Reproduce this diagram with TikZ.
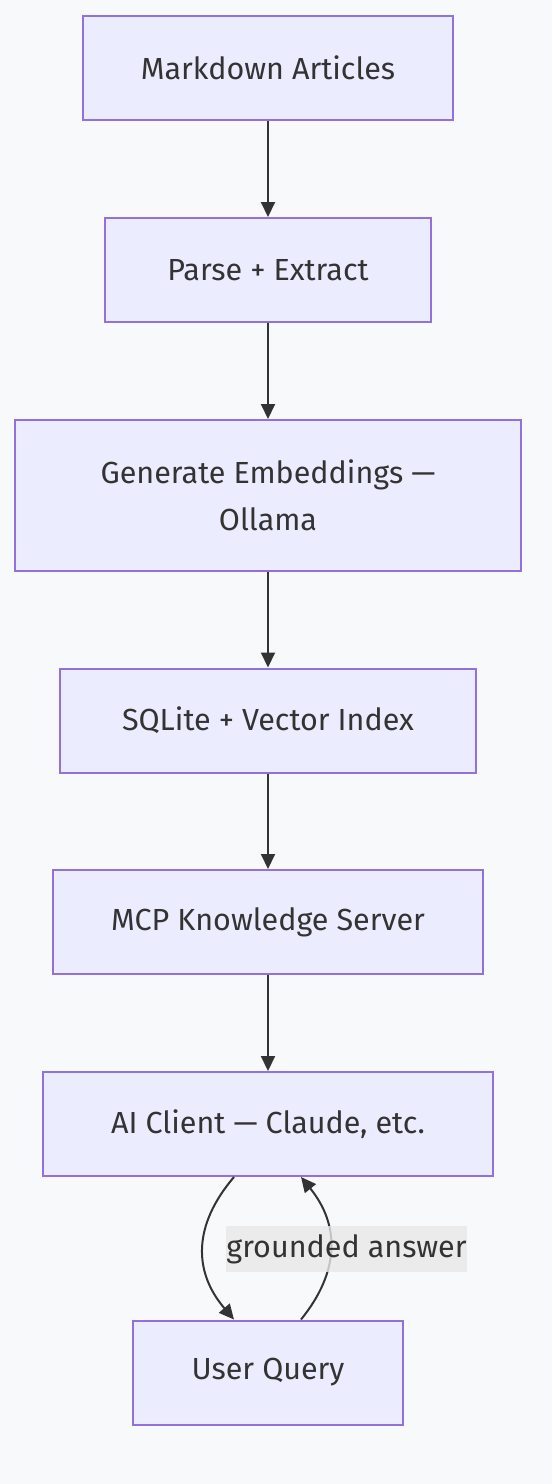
\documentclass[tikz,border=0pt]{standalone}
\usepackage{fontspec}
\setmainfont{Fira Sans}
\usetikzlibrary{arrows.meta,positioning}
\definecolor{nodefill}{HTML}{ECECFF}
\definecolor{nodeline}{HTML}{9370DB}
\definecolor{ink}{HTML}{333333}
\definecolor{canvas}{HTML}{F8F9FA}
\definecolor{labelbg}{HTML}{E8E8E8}
\tikzset{
  stage/.style     = {rectangle, draw=nodeline, fill=nodefill, line width=2pt,
                      align=center, text=ink, inner sep=0pt, minimum height=104pt,
                      font=\fontsize{30.5}{47}\selectfont},
  flow/.style      = {draw=ink, line width=2pt, -{Triangle[length=15pt,width=14pt]}},
  edgelabel/.style = {fill=labelbg, fill opacity=0.8, text opacity=1, text=ink,
                      inner sep=0pt, minimum width=237pt, minimum height=46pt,
                      font=\fontsize{30.5}{47}\selectfont}
}

\begin{document}
\begin{tikzpicture}[x=1pt,y=-1pt]

% canvas, fixes the margins
\fill[canvas] (0,0) rectangle (552,1484);
\useasboundingbox (0,0) rectangle (552,1484);

% the pipeline, top to bottom
\node[stage, minimum width=370pt] (md) at (268,68) {Markdown Articles};
\node[stage, minimum width=326pt] (parse) at (268,270) {Parse + Extract};
\node[stage, minimum width=506pt, minimum height=151pt] (embed) at (268,495.5) {Generate Embeddings —\\Ollama};
\node[stage, minimum width=416pt] (index) at (268,720.5) {SQLite + Vector Index};
\node[stage, minimum width=430pt] (mcp) at (268,922) {MCP Knowledge Server};
\node[stage, minimum width=450pt] (client) at (268,1124) {AI Client — Claude, etc.};
\node[stage, minimum width=270pt] (query) at (268,1372.5) {User Query};

% straight arrows between the stages
\foreach \from/\to in {md/parse, parse/embed, embed/index, index/mcp, mcp/client}
  \draw[flow] (\from) -- (\to);

% round trip between client and query
\draw[flow] ([xshift=-34pt]client.south) .. controls +(-41,48) and +(-41,-48) .. ([xshift=-34pt]query.north);
\draw[flow] ([xshift=33pt]query.north) .. controls +(39,-48) and +(39,48) .. ([xshift=33pt]client.south);
\node[edgelabel] (answer) at (346.5,1249) {grounded answer};

\end{tikzpicture}
\end{document}
